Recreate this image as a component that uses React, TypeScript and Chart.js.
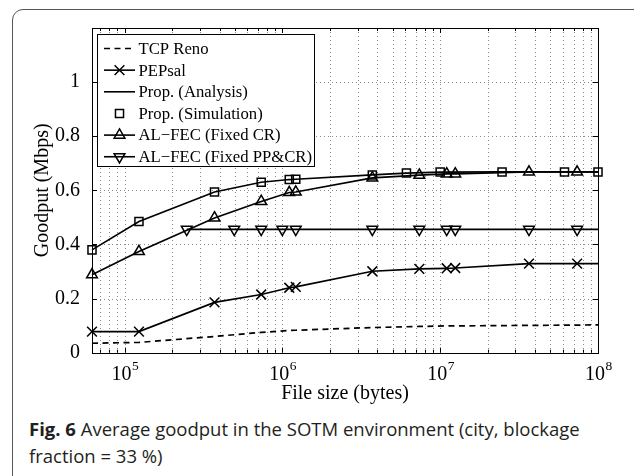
import React, { useEffect, useRef } from 'react';
import { Chart, registerables } from 'chart.js';

Chart.register(...registerables);

const SERIF = '"Liberation Serif", "Times New Roman", serif';

// ---- axes ----
const xMin = 62200;
const xMax = 1e8;
const yMin = 0;
const yMax = 1.2;
const yTickValues = [0, 0.2, 0.4, 0.6, 0.8, 1, 1.2];
const xDecades = [1e4, 1e5, 1e6, 1e7, 1e8];
const xMinorMultipliers = [2, 3, 4, 5, 6, 7, 8, 9];
const xLabelExponents = [5, 6, 7, 8];

// ---- series ----
const tcpRenoX = [62200, 123400, 371600, 734500, 1106000, 1216000, 3716000, 7374000, 11000000, 12460000, 36540000, 73740000, 100000000];
const tcpRenoY = [0.035, 0.038, 0.06, 0.075, 0.082, 0.083, 0.093, 0.097, 0.099, 0.099, 0.101, 0.102, 0.103];

const pepsalX = [62200, 123400, 371600, 734500, 1106000, 1216000, 3716000, 7374000, 11000000, 12460000, 36540000, 73740000, 100000000];
const pepsalY = [0.078, 0.078, 0.186, 0.215, 0.24, 0.243, 0.301, 0.31, 0.312, 0.313, 0.329, 0.329, 0.329];

const propX = [62200, 123400, 371600, 734500, 1106000, 1216000, 3716000, 6113000, 10000000, 24660000, 61330000, 100000000];
const propAnalysisY = [0.38, 0.485, 0.594, 0.63, 0.64, 0.641, 0.657, 0.664, 0.667, 0.668, 0.668, 0.668];
const propSimulationY = [0.38, 0.485, 0.594, 0.63, 0.64, 0.641, 0.657, 0.664, 0.668, 0.668, 0.668, 0.668];

const fixedCrX = [62200, 123400, 371600, 734500, 1106000, 1216000, 3716000, 7374000, 11000000, 12460000, 36540000, 73740000, 100000000];
const fixedCrY = [0.288, 0.374, 0.498, 0.559, 0.592, 0.594, 0.646, 0.656, 0.661, 0.661, 0.668, 0.668, 0.668];

const fixedPpCrX = [247800, 495600, 734500, 1000000, 1216000, 3716000, 7374000, 11000000, 12460000, 36540000, 73740000, 100000000];
const fixedPpCrY = [0.456, 0.456, 0.456, 0.456, 0.456, 0.456, 0.456, 0.456, 0.456, 0.456, 0.456, 0.456];

const seriesNames = [
  'TCP Reno',
  'PEPsal',
  'Prop. (Analysis)',
  'Prop. (Simulation)',
  'AL\u2212FEC (Fixed CR)',
  'AL\u2212FEC (Fixed PP&CR)',
];

const xTitle = 'File size (bytes)';
const yTitle = 'Goodput (Mbps)';

type Marker = 'none' | 'cross' | 'square' | 'triUp' | 'triDown';

const markerRadius: Record<Marker, number> = { none: 0, cross: 6.9, square: 5.7, triUp: 6.2, triDown: 6.2 };

function pts(xs: number[], ys: number[]) {
  return xs.map((x, i) => ({ x, y: ys[i] }));
}

function drawMarker(ctx: CanvasRenderingContext2D, m: Marker, x: number, y: number) {
  const r = markerRadius[m];
  ctx.beginPath();
  if (m === 'cross') {
    const d = r * Math.SQRT1_2;
    ctx.moveTo(x - d, y - d); ctx.lineTo(x + d, y + d);
    ctx.moveTo(x - d, y + d); ctx.lineTo(x + d, y - d);
  } else if (m === 'square') {
    const s = r * Math.SQRT1_2;
    ctx.rect(x - s, y - s, 2 * s, 2 * s);
  } else if (m === 'triUp' || m === 'triDown') {
    const sgn = m === 'triUp' ? 1 : -1;
    for (let k = 0; k < 3; k++) {
      const a = (k * 2 * Math.PI) / 3;
      const px = x + Math.sin(a) * r;
      const py = y - sgn * Math.cos(a) * r;
      if (k === 0) ctx.moveTo(px, py); else ctx.lineTo(px, py);
    }
    ctx.closePath();
  }
  ctx.stroke();
}

const legendMarkers: Marker[] = ['none', 'cross', 'none', 'square', 'triUp', 'triDown'];
const legendLines = [true, true, true, false, true, true];
const legendDashed = [true, false, false, false, false, false];

const matlabAxes = {
  id: 'matlabAxes',
  beforeDatasetsDraw(chart: any) {
    const { ctx, chartArea: a, scales } = chart;
    const xs = scales.x, ys = scales.y;
    ctx.save();
    ctx.strokeStyle = '#8a8a8a';
    ctx.lineWidth = 1;
    ctx.setLineDash([1, 3]);
    ctx.beginPath();
    for (const d of xDecades) {
      for (const m of [1, ...xMinorMultipliers]) {
        const v = d * m;
        if (v <= xMin || v >= xMax) continue;
        const px = Math.round(xs.getPixelForValue(v)) + 0.5;
        ctx.moveTo(px, a.top);
        ctx.lineTo(px, a.bottom);
      }
    }
    for (const v of yTickValues) {
      if (v <= yMin || v >= yMax - 1e-9) continue;
      const py = Math.round(ys.getPixelForValue(v)) + 0.5;
      ctx.moveTo(a.left, py);
      ctx.lineTo(a.right, py);
    }
    ctx.stroke();
    ctx.restore();
  },
  afterDraw(chart: any) {
    const { ctx, chartArea: a, scales } = chart;
    const xs = scales.x, ys = scales.y;
    ctx.save();
    ctx.setLineDash([]);
    ctx.strokeStyle = '#000';
    ctx.lineWidth = 1;
    // ticks
    ctx.beginPath();
    for (const d of xDecades) {
      for (const m of [1, ...xMinorMultipliers]) {
        const v = d * m;
        if (v <= xMin || v > xMax) continue;
        const px = Math.round(xs.getPixelForValue(v)) + 0.5;
        const len = m === 1 ? 5 : 3;
        ctx.moveTo(px, a.bottom); ctx.lineTo(px, a.bottom - len);
        ctx.moveTo(px, a.top); ctx.lineTo(px, a.top + len);
      }
    }
    for (const v of yTickValues) {
      const py = Math.round(ys.getPixelForValue(v)) + 0.5;
      ctx.moveTo(a.left, py); ctx.lineTo(a.left + 5, py);
      ctx.moveTo(a.right, py); ctx.lineTo(a.right - 5, py);
    }
    ctx.stroke();
    // box
    ctx.strokeRect(Math.round(a.left) + 0.5, Math.round(a.top) + 0.5, Math.round(a.right - a.left), Math.round(a.bottom - a.top));

    // x tick labels 10^n
    ctx.fillStyle = '#000';
    ctx.textBaseline = 'alphabetic';
    for (const e of xLabelExponents) {
      const px = xs.getPixelForValue(Math.pow(10, e));
      ctx.font = `20px ${SERIF}`;
      ctx.textAlign = 'right';
      ctx.fillText('10', px + 7, a.bottom + 27);
      ctx.font = `13.5px ${SERIF}`;
      ctx.textAlign = 'left';
      ctx.fillText(String(e), px + 7.5, a.bottom + 17.5);
    }

    // legend
    const L = { left: 97.5, top: 34.5, right: 314.5, bottom: 166.5 };
    ctx.fillStyle = '#fff';
    ctx.fillRect(L.left, L.top, L.right - L.left, L.bottom - L.top);
    ctx.strokeStyle = '#000';
    ctx.lineWidth = 1;
    ctx.strokeRect(L.left, L.top, L.right - L.left, L.bottom - L.top);
    ctx.font = `16.7px ${SERIF}`;
    ctx.textAlign = 'left';
    ctx.textBaseline = 'middle';
    seriesNames.forEach((name, i) => {
      const cy = 48.5 + i * 21.65;
      ctx.strokeStyle = '#000';
      ctx.lineWidth = 1.6;
      if (legendLines[i]) {
        ctx.setLineDash(legendDashed[i] ? [6, 4.5] : []);
        ctx.beginPath();
        ctx.moveTo(104, cy); ctx.lineTo(135, cy);
        ctx.stroke();
        ctx.setLineDash([]);
      }
      if (legendMarkers[i] !== 'none') {
        ctx.lineWidth = 1.5;
        drawMarker(ctx, legendMarkers[i], 119.5, cy);
      }
      ctx.fillStyle = '#000';
      ctx.fillText(name, 138.5, cy + 1);
    });
    ctx.restore();
  },
};

function makeDataset(label: string, data: { x: number; y: number }[], opts: any) {
  return {
    label,
    data,
    borderColor: '#000',
    backgroundColor: 'rgba(0,0,0,0)',
    pointBorderColor: '#000',
    pointBackgroundColor: 'rgba(0,0,0,0)',
    borderWidth: 1.7,
    pointBorderWidth: 1.5,
    tension: 0,
    clip: false,
    ...opts,
  };
}

export default function App() {
  const canvasRef = useRef<HTMLCanvasElement | null>(null);

  useEffect(() => {
    const canvas = canvasRef.current;
    if (!canvas) return;
    const lastHidden = (r: number) => (c: any) => (c.dataIndex === c.dataset.data.length - 1 ? 0 : r);
    const chart = new Chart(canvas, {
      type: 'line',
      data: {
        datasets: [
          makeDataset(seriesNames[0], pts(tcpRenoX, tcpRenoY), { borderDash: [6, 4.5], pointRadius: 0 }),
          makeDataset(seriesNames[1], pts(pepsalX, pepsalY), { pointStyle: 'crossRot', pointRadius: lastHidden(markerRadius.cross) }),
          makeDataset(seriesNames[2], pts(propX, propAnalysisY), { pointRadius: 0 }),
          makeDataset(seriesNames[3], pts(propX, propSimulationY), { showLine: false, pointStyle: 'rect', pointRadius: markerRadius.square }),
          makeDataset(seriesNames[4], pts(fixedCrX, fixedCrY), { pointStyle: 'triangle', pointRadius: lastHidden(markerRadius.triUp) }),
          makeDataset(seriesNames[5], pts(fixedPpCrX, fixedPpCrY), { pointStyle: 'triangle', pointRotation: 180, pointRadius: lastHidden(markerRadius.triDown) }),
        ],
      },
      options: {
        animation: false,
        responsive: false,
        events: [],
        layout: { padding: { top: 28, right: 36, left: 0, bottom: 0 } },
        plugins: { legend: { display: false }, tooltip: { enabled: false }, title: { display: false } },
        elements: { point: { hoverRadius: 0 } },
        scales: {
          x: {
            type: 'logarithmic',
            min: xMin,
            max: xMax,
            grid: { display: false },
            border: { display: false },
            ticks: { display: false },
            title: { display: true, text: xTitle, color: '#000', font: { family: SERIF, size: 20 }, padding: { top: 0, bottom: 4 } },
            afterFit: (s: any) => { s.height = 57.3; },
          },
          y: {
            type: 'linear',
            min: yMin,
            max: yMax,
            grid: { display: false },
            border: { display: false },
            ticks: {
              stepSize: 0.2,
              color: '#000',
              padding: 4,
              font: { family: SERIF, size: 20 },
              callback: (v: any) => (Number(v) > 1.05 ? '' : String(Math.round(Number(v) * 10) / 10)),
            },
            title: { display: true, text: yTitle, color: '#000', font: { family: SERIF, size: 20 }, padding: { top: 31, bottom: 0 } },
            afterFit: (s: any) => { s.width = 92; },
          },
        },
      },
      plugins: [matlabAxes],
    });
    return () => chart.destroy();
  }, []);

  return (
    <div style={{ position: 'absolute', left: 0, top: 0, width: 634, height: 476, overflow: 'hidden', background: '#fff' }}>
      <div style={{ position: 'absolute', left: 12, top: 9, width: 700, height: 600, border: '1.4px solid #555', borderRadius: 11, boxSizing: 'border-box' }} />
      <canvas ref={canvasRef} width={634} height={410} style={{ position: 'absolute', left: 0, top: 0, width: 634, height: 410 }} />
      <div style={{ position: 'absolute', left: 29, top: 415, width: 605, fontFamily: '"Open Sans", "Noto Sans", sans-serif', fontSize: 18.5, lineHeight: '27px', color: '#231f20', whiteSpace: 'nowrap' }}>
        <span style={{ fontWeight: 700 }}>Fig. 6</span> Average goodput in the SOTM environment (city, blockage
        <br />
        fraction = 33 %)
      </div>
    </div>
  );
}
